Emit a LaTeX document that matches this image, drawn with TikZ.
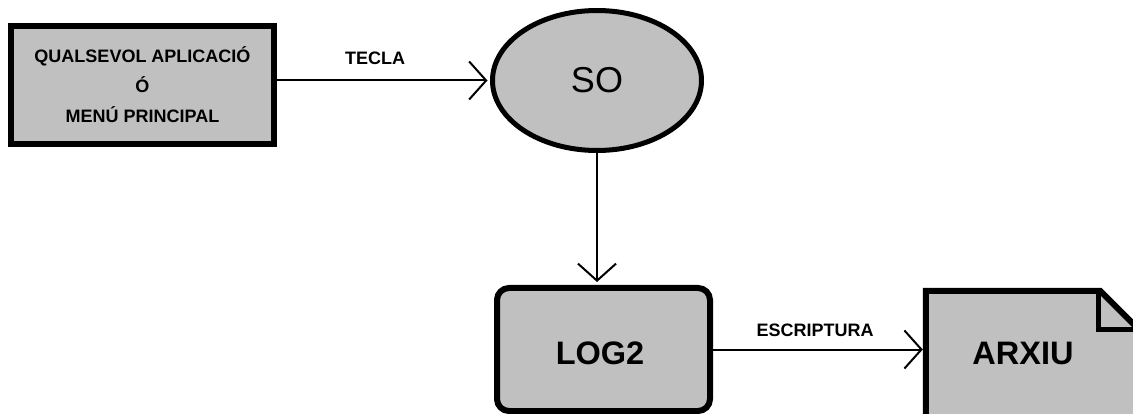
\documentclass[tikz,border=0pt]{standalone}
\usepackage{fontspec}
\setmainfont{Liberation Sans}
\usetikzlibrary{arrows.meta,shapes.geometric,calc}
\definecolor{boxgray}{RGB}{192,192,192}
\begin{document}
\begin{tikzpicture}[x=1pt,y=-1pt,
  shapebox/.style={draw=black,fill=boxgray,line width=6pt,inner sep=0pt},
  conn/.style={line width=2pt,-{Straight Barb[length=17pt,width=38pt,line width=2pt]}},
  smalllabel/.style={font=\bfseries\fontsize{18}{30}\selectfont,inner sep=0pt,anchor=base},
  biglabel/.style={font=\bfseries\fontsize{32.5}{36}\selectfont,inner sep=0pt}]
  % canvas
  \useasboundingbox (0,0) rectangle (1133,414);

  % source box
  \node[shapebox,minimum width=263pt,minimum height=118pt,align=center,
        font=\bfseries\fontsize{18}{30}\selectfont] (app) at (142.5,85)
        {QUALSEVOL APLICACIÓ\\Ó\\MENÚ PRINCIPAL};

  % operating system
  \node[ellipse,draw=black,fill=boxgray,line width=5pt,inner sep=0pt,
        minimum width=209pt,minimum height=140pt,
        font=\fontsize{36}{40}\selectfont] (so) at (597,80.5) {SO};

  % logger process
  \node[shapebox,rounded corners=12pt,minimum width=213pt,minimum height=123pt] (log2) at (603.5,349.5) {};
  \node[biglabel] (logtext) at (600,353) {LOG2};

  % output file (folded-corner document)
  \node[inner sep=0pt,minimum width=210pt,minimum height=128pt] (arxiu) at (1031,355) {};
  \filldraw[draw=black,fill=boxgray,line width=6pt,line join=miter]
    (arxiu.south west) -- (arxiu.north west) -- ($(arxiu.north east)+(-36,0)$)
    -- ++(36,36) -- (arxiu.south east) -- cycle;
  \draw[line width=5pt,line join=miter]
    ($(arxiu.north east)+(-38,0)$) -- ++(0,39) -- ++(38,0);
  \node[biglabel] (arxiutext) at (1023,353) {ARXIU};

  % connectors
  \draw[conn,shorten >=2.5pt] (so.west -| app.east) -- (so.west);
  \node[smalllabel] (tecla) at (375,65) {TECLA};

  \draw[conn,shorten >=3pt] (so.south) -- (so.south |- log2.north);

  \draw[conn,shorten >=3pt] (log2.east) -- (log2.east -| arxiu.west);
  \node[smalllabel] (escr) at (815,336) {ESCRIPTURA};
\end{tikzpicture}
\end{document}
